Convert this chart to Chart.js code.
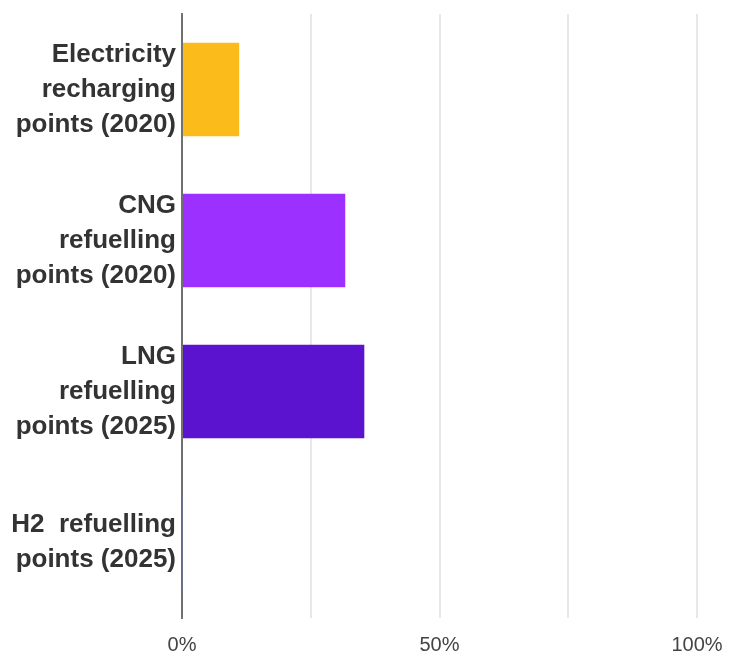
<!DOCTYPE html>
<html>
<head>
<meta charset="utf-8">
<script src="https://cdn.jsdelivr.net/npm/chart.js@4/dist/chart.umd.min.js"></script>
<style>
  html, body { margin: 0; padding: 0; background: #ffffff; }
  #wrap { width: 731px; height: 659px; position: relative; }
</style>
</head>
<body>
<div id="wrap"><canvas id="c" width="731" height="659"></canvas></div>
<script>
const categories = [
  ["Electricity", "recharging", "points (2020)"],
  ["CNG", "refuelling", "points (2020)"],
  ["LNG", "refuelling", "points (2025)"],
  ["H2  refuelling", "points (2025)"]
];
const values = [11.1, 31.7, 35.4, 0.15];
const barColors = ["#FBBC1B", "#9B30FF", "#5B13CF", "#4F7BE0"];
const xTicks = [0, 25, 50, 75, 100];
const xTickLabels = ["0%", "", "50%", "", "100%"];

new Chart(document.getElementById('c'), {
  type: 'bar',
  data: {
    labels: categories,
    datasets: [{
      data: values,
      backgroundColor: barColors,
      borderWidth: 0,
      categoryPercentage: 1.0,
      barPercentage: 0.62
    }]
  },
  options: {
    indexAxis: 'y',
    responsive: false,
    animation: false,
    devicePixelRatio: 1,
    layout: { padding: { top: 14, right: 34, left: 0, bottom: 0 } },
    plugins: { legend: { display: false }, tooltip: { enabled: false } },
    scales: {
      x: {
        min: 0,
        max: 100,
        afterBuildTicks: (scale) => { scale.ticks = xTicks.map(v => ({ value: v })); },
        afterFit: (scale) => {
          scale.height = 41;
          scale.paddingLeft = 0; scale.paddingRight = 0;
          scale.paddingTop = 0; scale.paddingBottom = 0;
        },
        grid: {
          color: '#e8e8e8',
          lineWidth: 2,
          drawTicks: false
        },
        border: { display: false },
        ticks: {
          autoSkip: false,
          maxRotation: 0,
          padding: 15,
          color: '#444444',
          font: { family: 'Liberation Sans, Arial, sans-serif', size: 20 },
          callback: (v, i) => xTickLabels[xTicks.indexOf(v)]
        }
      },
      y: {
        afterFit: (scale) => {
          scale.width = 182;
          scale.paddingTop = 0; scale.paddingBottom = 0;
          scale.paddingLeft = 0; scale.paddingRight = 0;
        },
        grid: { display: false, drawTicks: false },
        border: { display: true, color: '#707070', width: 2 },
        ticks: {
          padding: 6,
          color: '#333333',
          font: { family: 'Liberation Sans, Arial, sans-serif', size: 26, weight: 'bold', lineHeight: 1.35 }
        }
      }
    }
  }
});
</script>
</body>
</html>
